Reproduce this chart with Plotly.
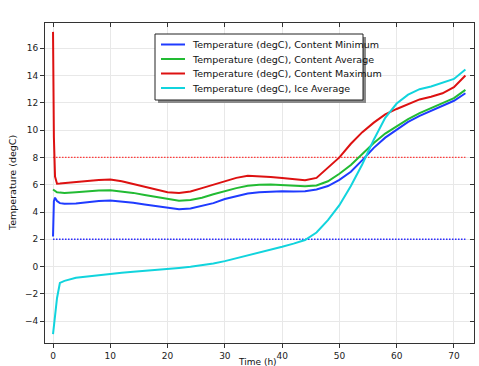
import plotly.graph_objects as go

# ---- data ----
time_h = [0, 0.15, 0.35, 0.7, 1.2, 2, 4, 6, 8, 10, 12, 14, 16, 18, 20, 22, 24, 26, 28, 30,
          32, 34, 36, 38, 40, 42, 44, 46, 48, 50, 52, 54, 56, 58, 60, 62, 64, 66, 68, 70, 72]

content_min = [2.2, 4.8, 5.05, 4.8, 4.65, 4.6, 4.62, 4.72, 4.8, 4.85, 4.78, 4.67, 4.55, 4.42,
               4.28, 4.2, 4.25, 4.45, 4.65, 4.95, 5.15, 5.35, 5.45, 5.5, 5.52, 5.5, 5.52, 5.65,
               5.9, 6.35, 6.95, 7.8, 8.7, 9.45, 10.05, 10.6, 11.05, 11.4, 11.75, 12.15, 12.7]

content_avg = [5.65, 5.6, 5.5, 5.45, 5.42, 5.4, 5.45, 5.52, 5.58, 5.6, 5.52, 5.4, 5.25, 5.1,
               4.93, 4.83, 4.88, 5.05, 5.3, 5.55, 5.75, 5.92, 6.0, 6.02, 5.98, 5.93, 5.88, 5.95,
               6.25, 6.8, 7.45, 8.25, 9.05, 9.75, 10.3, 10.8, 11.25, 11.6, 11.95, 12.35, 12.95]

content_max = [17.2, 9.5, 6.6, 6.07, 6.08, 6.12, 6.2, 6.27, 6.35, 6.38, 6.25, 6.05, 5.85, 5.65,
               5.45, 5.4, 5.5, 5.75, 6.0, 6.3, 6.5, 6.65, 6.62, 6.57, 6.5, 6.42, 6.33, 6.5,
               7.25, 8.0, 9.0, 9.85, 10.55, 11.15, 11.55, 11.88, 12.25, 12.45, 12.7, 13.15, 14.0]

ice_avg = [-4.95, -4.4, -3.6, -2.3, -1.2, -1.05, -0.82, -0.72, -0.62, -0.53, -0.45, -0.38,
           -0.32, -0.25, -0.17, -0.1, -0.02, 0.08, 0.22, 0.4, 0.6, 0.82, 1.05, 1.25, 1.45,
           1.68, 1.95, 2.5, 3.4, 4.5, 5.9, 7.5, 9.3, 10.9, 11.95, 12.6, 13.0, 13.2, 13.45,
           13.75, 14.45]

limit_time = [0, 72]
upper_limit = [8, 8]
lower_limit = [2, 2]

x_ticks = [0, 10, 20, 30, 40, 50, 60, 70]
y_ticks = [-4, -2, 0, 2, 4, 6, 8, 10, 12, 14, 16]

series_names = ["Temperature (degC), Content Minimum",
                "Temperature (degC), Content Average",
                "Temperature (degC), Content Maximum",
                "Temperature (degC), Ice Average"]
series_values = [content_min, content_avg, content_max, ice_avg]
series_colors = ["#1f3bff", "#22bb33", "#dd1111", "#11d4dd"]

FONT = "DejaVu Sans"
W, H = 479, 366
L, R, T, B = 45, 5, 23, 23
X_RANGE = [-1.4, 73.5]
Y_RANGE = [-5.6, 17.85]

pw = W - L - R
ph = H - T - B


def px_x(p):
    return (p - L) / pw


def px_y(p):
    return (H - B - p) / ph


fig = go.Figure()

fig.add_trace(go.Scatter(x=limit_time, y=upper_limit, mode="lines",
                         line=dict(color="#ff3b3b", width=1.4, dash="1.5px,1.5px"),
                         showlegend=False, hoverinfo="skip"))
fig.add_trace(go.Scatter(x=limit_time, y=lower_limit, mode="lines",
                         line=dict(color="#2a2aff", width=1.4, dash="1.5px,1.5px"),
                         showlegend=False, hoverinfo="skip"))

for name, vals, col in zip(series_names, series_values, series_colors):
    fig.add_trace(go.Scatter(x=time_h, y=vals, mode="lines", name=name,
                             line=dict(color=col, width=2), showlegend=False))

# ---- manual legend (box, shadow, samples, labels) ----
box = dict(x0=155, x1=363, y0=34, y1=100)
fig.add_shape(type="rect", xref="paper", yref="paper",
              x0=px_x(box["x0"] + 3), x1=px_x(box["x1"] + 3),
              y0=px_y(box["y1"] + 3), y1=px_y(box["y0"] + 3),
              fillcolor="#8a8a8a", line=dict(width=0), layer="above")
fig.add_shape(type="rect", xref="paper", yref="paper",
              x0=px_x(box["x0"]), x1=px_x(box["x1"]),
              y0=px_y(box["y1"]), y1=px_y(box["y0"]),
              fillcolor="white", line=dict(color="#222222", width=1), layer="above")
for i, (name, col) in enumerate(zip(series_names, series_colors)):
    yy = 44.5 + 14.5 * i
    fig.add_shape(type="line", xref="paper", yref="paper",
                  x0=px_x(161), x1=px_x(185), y0=px_y(yy), y1=px_y(yy),
                  line=dict(color=col, width=2), layer="above")
    fig.add_annotation(xref="paper", yref="paper", x=px_x(190), y=px_y(yy),
                       xanchor="left", yanchor="middle", showarrow=False,
                       text=name, font=dict(family=FONT, size=9.5, color="#111111"))

# axis titles
fig.add_annotation(xref="paper", yref="paper", x=px_x(257), y=px_y(362),
                   xanchor="center", yanchor="middle", showarrow=False,
                   text="Time (h)", font=dict(family=FONT, size=9, color="#111111"))
fig.add_annotation(xref="paper", yref="paper", x=px_x(12), y=px_y(183),
                   xanchor="center", yanchor="middle", showarrow=False, textangle=-90,
                   text="Temperature (degC)", font=dict(family=FONT, size=9.5, color="#111111"))

fig.update_layout(
    width=W, height=H,
    margin=dict(l=L, r=R, t=T, b=B, autoexpand=False),
    paper_bgcolor="white", plot_bgcolor="white",
    font=dict(family=FONT, size=9, color="#222222"),
    showlegend=False,
    xaxis=dict(range=X_RANGE, tickvals=x_ticks, ticks="outside", ticklen=4,
               tickcolor="#333333", showline=True, linecolor="#333333", linewidth=1,
               mirror=True, showgrid=True, gridcolor="#e8e8e8", zeroline=False,
               automargin=False, tickfont=dict(size=9)),
    yaxis=dict(range=Y_RANGE, tickvals=y_ticks, ticks="outside", ticklen=4,
               tickcolor="#333333", showline=True, linecolor="#333333", linewidth=1,
               mirror=True, showgrid=True, gridcolor="#e8e8e8", zeroline=False,
               automargin=False, tickfont=dict(size=9)),
    xaxis2=dict(range=X_RANGE, tickvals=x_ticks, overlaying="x", side="top",
                ticks="inside", ticklen=4, tickcolor="#333333", showticklabels=False,
                showgrid=False, zeroline=False, showline=False, automargin=False),
    yaxis2=dict(range=Y_RANGE, tickvals=y_ticks, overlaying="y", side="right",
                ticks="inside", ticklen=4, tickcolor="#333333", showticklabels=False,
                showgrid=False, zeroline=False, showline=False, automargin=False),
)

fig.add_trace(go.Scatter(x=[X_RANGE[0]], y=[Y_RANGE[0]], xaxis="x2", yaxis="y2",
                         mode="markers", marker=dict(opacity=0), showlegend=False,
                         hoverinfo="skip"))

fig.write_html("out.html", config={"displayModeBar": False},
               post_script="document.body.style.margin='0px';"
                           "document.body.style.overflow='hidden';")
